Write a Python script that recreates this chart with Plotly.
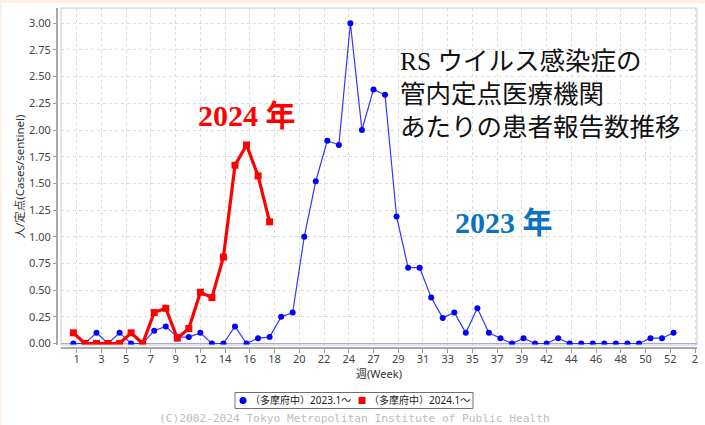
import plotly.graph_objects as go
from datetime import date, timedelta

# ---- data ----
weeks_2023 = list(range(1, 54))
cases_2023 = [0.00, 0.00, 0.10, 0.00, 0.10, 0.00, 0.00, 0.12, 0.16, 0.06,
              0.06, 0.10, 0.00, 0.00, 0.16, 0.00, 0.05, 0.06, 0.25, 0.29,
              1.00, 1.52, 1.90, 1.86, 3.00, 2.00, 2.38, 2.33, 1.19, 0.71,
              0.71, 0.43, 0.24, 0.29, 0.10, 0.33, 0.10, 0.05, 0.00, 0.05,
              0.00, 0.00, 0.05, 0.00, 0.00, 0.00, 0.00, 0.00, 0.00, 0.00,
              0.05, 0.05, 0.10]
weeks_2024 = list(range(1, 19))
cases_2024 = [0.10, 0.00, 0.00, 0.00, 0.00, 0.10, 0.00, 0.29, 0.33, 0.05,
              0.14, 0.48, 0.43, 0.81, 1.67, 1.86, 1.57, 1.14]
tick_labels = ["1", "3", "5", "7", "9", "12", "14", "16", "18", "20", "22", "24",
               "27", "29", "31", "33", "35", "37", "39", "42", "44", "46", "48",
               "50", "52", "2"]
series_names = ["（多摩府中）2023.1～", "（多摩府中）2024.1～"]

# week number -> date on a common (year-agnostic) time axis
base = date(2023, 1, 2)
def week_date(w):
    return base + timedelta(weeks=w - 1)

x_2023 = [week_date(w) for w in weeks_2023]
x_2024 = [week_date(w) for w in weeks_2024]
tick_dates = [date(2023, 1, 4) + timedelta(days=15 * i) for i in range(len(tick_labels))]

BLUE = "#0000ff"
RED = "#ff0000"
GRAY_TXT = "#444444"
FONT = "Noto Sans, Noto Sans CJK JP, sans-serif"

fig = go.Figure()
fig.add_trace(go.Scatter(x=x_2023, y=cases_2023, mode="lines+markers",
                         name=series_names[0],
                         line=dict(color="#3535ff", width=1.2),
                         marker=dict(color=BLUE, size=6, symbol="circle"),
                         showlegend=False))
fig.add_trace(go.Scatter(x=x_2024, y=cases_2024, mode="lines+markers",
                         name=series_names[1],
                         line=dict(color=RED, width=3.2),
                         marker=dict(color=RED, size=7, symbol="square"),
                         showlegend=False))

W, H = 705, 425
ml, mr, mt, mb = 57, 8, 8, 77
pw, ph = W - ml - mr, H - mt - mb

def px_x(px):
    return (px - ml) / pw

def px_y(py):
    return (mt + ph - py) / ph

fig.update_layout(
    width=W, height=H,
    margin=dict(l=ml, r=mr, t=mt, b=mb, autoexpand=False),
    paper_bgcolor="white", plot_bgcolor="white",
    font=dict(family=FONT, size=11, color=GRAY_TXT),
    showlegend=False,
    xaxis=dict(type="date", domain=[4 / pw, 1], anchor="free", position=0,
               range=["2022-12-25 11:30", "2024-01-15 05:00"],
               tickmode="array", tickvals=tick_dates, ticktext=tick_labels,
               ticks="outside", ticklen=4, tickcolor="#999999",
               ticklabelstandoff=-3,
               showgrid=True, gridcolor="#dcdcdc", griddash="3px,3px", gridwidth=1,
               showline=True, linecolor="#a8a8a8", linewidth=2,
               zeroline=False,
               tickfont=dict(size=11, color=GRAY_TXT),
               title=dict(text="週(Week)", standoff=2, font=dict(size=11, color="#333333"))),
    yaxis=dict(domain=[3 / ph, 1], anchor="free", position=0,
               range=[-0.014, 3.143], tick0=0, dtick=0.25, tickformat=".2f",
               ticks="outside", ticklen=3, tickcolor="#999999",
               showgrid=True, gridcolor="#dcdcdc", griddash="3px,3px", gridwidth=1,
               showline=True, linecolor="#a8a8a8", linewidth=2,
               zeroline=True, zerolinecolor="#a4a4e8", zerolinewidth=1,
               tickfont=dict(size=11, color=GRAY_TXT),
               title=dict(text="人/定点(Cases/sentinel)", standoff=1,
                          font=dict(size=11.5, color="#333333"))),
)

# plot frame
fig.add_shape(type="rect", xref="x domain", yref="y domain", x0=0, x1=1, y0=0, y1=1,
              line=dict(color="#c8c8c8", width=1), layer="above")
# peach page edges
PEACH = "#fcefe6"
fig.add_shape(type="rect", xref="paper", yref="paper",
              x0=-ml / pw, x1=(W - ml) / pw, y0=(ph + mt - 3) / ph, y1=(ph + mt) / ph,
              line=dict(width=0), fillcolor=PEACH, layer="below")
fig.add_shape(type="rect", xref="paper", yref="paper",
              x0=-ml / pw, x1=(2 - ml) / pw, y0=-mb / ph, y1=(ph + mt) / ph,
              line=dict(width=0), fillcolor=PEACH, layer="below")

# ---- legend box (compact, like the reference) ----
LEG_Y = 400.5
fig.add_shape(type="rect", xref="paper", yref="paper",
              x0=px_x(235), x1=px_x(473), y0=px_y(392.5), y1=px_y(408.5),
              line=dict(color="#707070", width=1), fillcolor="white")
fig.add_shape(type="circle", xref="paper", yref="paper",
              x0=px_x(239.5), x1=px_x(246.5), y0=px_y(LEG_Y - 3.5), y1=px_y(LEG_Y + 3.5),
              line=dict(width=0), fillcolor=BLUE)
fig.add_shape(type="rect", xref="paper", yref="paper",
              x0=px_x(358.5), x1=px_x(365.5), y0=px_y(LEG_Y - 3.5), y1=px_y(LEG_Y + 3.5),
              line=dict(width=0), fillcolor=RED)
for tx, name in zip([248, 367], series_names):
    fig.add_annotation(x=px_x(tx), y=px_y(LEG_Y), xref="paper", yref="paper",
                       xanchor="left", yanchor="middle", showarrow=False,
                       text=name, font=dict(family=FONT, size=10, color="#222222"))

SERIF = "Liberation Serif, Noto Sans CJK JP, serif"
fig.add_annotation(x=px_x(398), y=px_y(94), xref="paper", yref="paper",
                   xanchor="left", yanchor="middle", align="left", showarrow=False,
                   text="RS ウイルス感染症の<br>管内定点医療機関<br>あたりの患者報告数推移",
                   font=dict(family=SERIF, size=25.5, color="#111111"))
fig.add_annotation(x=px_x(246.5), y=px_y(115), xref="paper", yref="paper",
                   xanchor="center", yanchor="middle", showarrow=False,
                   text="<b>2024 年</b>",
                   font=dict(family=SERIF, size=30, color=RED))
fig.add_annotation(x=px_x(503.5), y=px_y(222), xref="paper", yref="paper",
                   xanchor="center", yanchor="middle", showarrow=False,
                   text="<b>2023 年</b>",
                   font=dict(family=SERIF, size=30, color="#0a72c0"))
fig.add_annotation(x=px_x(354), y=px_y(418), xref="paper", yref="paper",
                   xanchor="center", yanchor="middle", showarrow=False,
                   text="(C)2002-2024 Tokyo Metropolitan Institute of Public Health",
                   font=dict(family="DejaVu Sans Mono, monospace", size=11.2, color="#bdbdbd"))

fig.write_html("out.html", config={"displayModeBar": False},
               post_script="document.body.style.margin='0';document.body.style.overflow='hidden';")
